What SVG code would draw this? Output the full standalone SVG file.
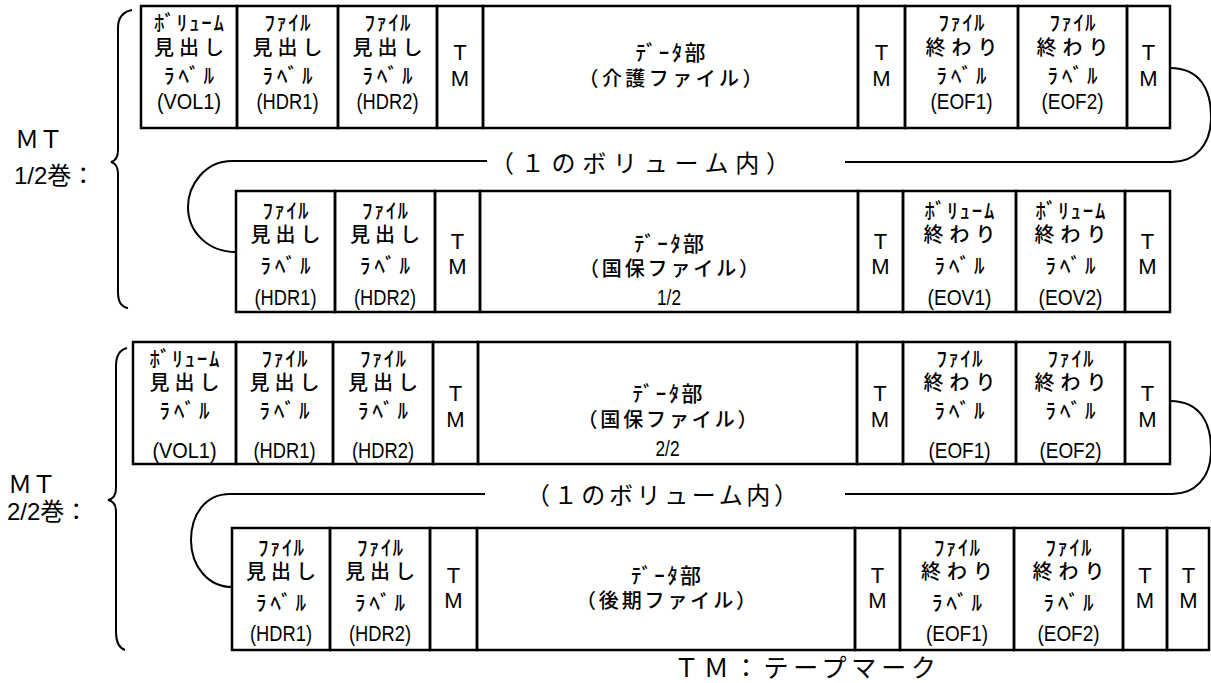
<svg xmlns="http://www.w3.org/2000/svg" width="1211" height="683" viewBox="0 0 1211 683">
<style>
.b{fill:none;stroke:#000;stroke-width:2.5}
.n{fill:none;stroke:#000;stroke-width:2}
text{fill:#000;text-anchor:middle;dominant-baseline:central}
.k{font-family:"Liberation Sans","Noto Sans CJK JP",sans-serif;font-size:21px;font-weight:500}
.z{font-family:"Liberation Sans","Noto Sans CJK JP",sans-serif;font-size:20px;font-weight:500}
.c{font-family:"Liberation Sans","Noto Sans CJK JP",sans-serif;font-size:22px}
.t{font-family:"Liberation Sans",sans-serif;font-size:22px}
.w{font-family:"Noto Sans CJK JP",sans-serif;font-size:24px}
.m{font-family:"Liberation Sans","Noto Sans CJK JP",sans-serif;font-size:24px;text-anchor:start;dominant-baseline:auto}
</style>
<rect width="1211" height="683" fill="#fff"/>

<!-- Row 1 -->
<g id="r1-vol1"><rect class="b" x="141" y="6" width="96" height="122"/>
<text class="k" x="189" y="22" textLength="70">ﾎﾞﾘｭｰﾑ</text><text class="z" x="189" y="48" textLength="70">見出し</text><text class="k" x="189" y="75" textLength="50">ﾗﾍﾞﾙ</text><text class="c" x="189" y="101" textLength="64" lengthAdjust="spacingAndGlyphs">(VOL1)</text></g>
<g id="r1-hdr1"><rect class="b" x="237" y="6" width="101" height="122"/>
<text class="k" x="287.5" y="22" textLength="46">ﾌｧｲﾙ</text><text class="z" x="287.5" y="48" textLength="70">見出し</text><text class="k" x="287.5" y="75" textLength="50">ﾗﾍﾞﾙ</text><text class="c" x="287.5" y="101" textLength="62" lengthAdjust="spacingAndGlyphs">(HDR1)</text></g>
<g id="r1-hdr2"><rect class="b" x="338" y="6" width="99" height="122"/>
<text class="k" x="387.5" y="22" textLength="46">ﾌｧｲﾙ</text><text class="z" x="387.5" y="48" textLength="70">見出し</text><text class="k" x="387.5" y="75" textLength="50">ﾗﾍﾞﾙ</text><text class="c" x="387.5" y="101" textLength="62" lengthAdjust="spacingAndGlyphs">(HDR2)</text></g>
<g id="r1-tm1"><rect class="b" x="437" y="6" width="46" height="122"/>
<text class="t" x="460" y="52">T</text><text class="t" x="460" y="78">M</text></g>
<g id="r1-data"><rect class="b" x="483" y="6" width="375" height="122"/>
<text class="k" x="670.5" y="52" textLength="70">ﾃﾞｰﾀ部</text><text class="z" x="670.5" y="79" textLength="184">（介護ファイル）</text></g>
<g id="r1-tm2"><rect class="b" x="858" y="6" width="47" height="122"/>
<text class="t" x="881.5" y="52">T</text><text class="t" x="881.5" y="78">M</text></g>
<g id="r1-eof1"><rect class="b" x="905" y="6" width="113" height="122"/>
<text class="k" x="961.5" y="22" textLength="46">ﾌｧｲﾙ</text><text class="z" x="961.5" y="48" textLength="72">終わり</text><text class="k" x="961.5" y="75" textLength="50">ﾗﾍﾞﾙ</text><text class="c" x="961.5" y="101" textLength="62" lengthAdjust="spacingAndGlyphs">(EOF1)</text></g>
<g id="r1-eof2"><rect class="b" x="1018" y="6" width="109" height="122"/>
<text class="k" x="1072.5" y="22" textLength="46">ﾌｧｲﾙ</text><text class="z" x="1072.5" y="48" textLength="72">終わり</text><text class="k" x="1072.5" y="75" textLength="50">ﾗﾍﾞﾙ</text><text class="c" x="1072.5" y="101" textLength="62" lengthAdjust="spacingAndGlyphs">(EOF2)</text></g>
<g id="r1-tm3"><rect class="b" x="1127" y="6" width="43" height="122"/>
<text class="t" x="1148.5" y="52">T</text><text class="t" x="1148.5" y="78">M</text></g>

<!-- Row 2 -->
<g id="r2-hdr1"><rect class="b" x="236" y="191" width="99" height="121"/>
<text class="k" x="285.5" y="210" textLength="46">ﾌｧｲﾙ</text><text class="z" x="285.5" y="235" textLength="70">見出し</text><text class="k" x="285.5" y="265" textLength="50">ﾗﾍﾞﾙ</text><text class="c" x="285.5" y="297" textLength="62" lengthAdjust="spacingAndGlyphs">(HDR1)</text></g>
<g id="r2-hdr2"><rect class="b" x="335" y="191" width="100" height="121"/>
<text class="k" x="385" y="210" textLength="46">ﾌｧｲﾙ</text><text class="z" x="385" y="235" textLength="70">見出し</text><text class="k" x="385" y="265" textLength="50">ﾗﾍﾞﾙ</text><text class="c" x="385" y="297" textLength="62" lengthAdjust="spacingAndGlyphs">(HDR2)</text></g>
<g id="r2-tm1"><rect class="b" x="435" y="191" width="45" height="121"/>
<text class="t" x="457.5" y="241">T</text><text class="t" x="457.5" y="266">M</text></g>
<g id="r2-data"><rect class="b" x="480" y="191" width="378" height="121"/>
<text class="k" x="669" y="243" textLength="70">ﾃﾞｰﾀ部</text><text class="z" x="669" y="269" textLength="180">（国保ファイル）</text><text class="c" x="669" y="297" textLength="24" lengthAdjust="spacingAndGlyphs">1/2</text></g>
<g id="r2-tm2"><rect class="b" x="858" y="191" width="45" height="121"/>
<text class="t" x="880.5" y="241">T</text><text class="t" x="880.5" y="266">M</text></g>
<g id="r2-eov1"><rect class="b" x="903" y="191" width="113" height="121"/>
<text class="k" x="959.5" y="210" textLength="70">ﾎﾞﾘｭｰﾑ</text><text class="z" x="959.5" y="235" textLength="72">終わり</text><text class="k" x="959.5" y="265" textLength="50">ﾗﾍﾞﾙ</text><text class="c" x="959.5" y="297" textLength="64" lengthAdjust="spacingAndGlyphs">(EOV1)</text></g>
<g id="r2-eov2"><rect class="b" x="1016" y="191" width="109" height="121"/>
<text class="k" x="1070.5" y="210" textLength="70">ﾎﾞﾘｭｰﾑ</text><text class="z" x="1070.5" y="235" textLength="72">終わり</text><text class="k" x="1070.5" y="265" textLength="50">ﾗﾍﾞﾙ</text><text class="c" x="1070.5" y="297" textLength="64" lengthAdjust="spacingAndGlyphs">(EOV2)</text></g>
<g id="r2-tm3"><rect class="b" x="1125" y="191" width="45" height="121"/>
<text class="t" x="1147.5" y="241">T</text><text class="t" x="1147.5" y="266">M</text></g>

<!-- Row 3 -->
<g id="r3-vol1"><rect class="b" x="133" y="342" width="103" height="122"/>
<text class="k" x="184.5" y="358" textLength="70">ﾎﾞﾘｭｰﾑ</text><text class="z" x="184.5" y="383" textLength="70">見出し</text><text class="k" x="184.5" y="410" textLength="50">ﾗﾍﾞﾙ</text><text class="c" x="184.5" y="450" textLength="64" lengthAdjust="spacingAndGlyphs">(VOL1)</text></g>
<g id="r3-hdr1"><rect class="b" x="236" y="342" width="97" height="122"/>
<text class="k" x="284.5" y="358" textLength="46">ﾌｧｲﾙ</text><text class="z" x="284.5" y="383" textLength="70">見出し</text><text class="k" x="284.5" y="410" textLength="50">ﾗﾍﾞﾙ</text><text class="c" x="284.5" y="450" textLength="62" lengthAdjust="spacingAndGlyphs">(HDR1)</text></g>
<g id="r3-hdr2"><rect class="b" x="333" y="342" width="100" height="122"/>
<text class="k" x="383" y="358" textLength="46">ﾌｧｲﾙ</text><text class="z" x="383" y="383" textLength="70">見出し</text><text class="k" x="383" y="410" textLength="50">ﾗﾍﾞﾙ</text><text class="c" x="383" y="450" textLength="62" lengthAdjust="spacingAndGlyphs">(HDR2)</text></g>
<g id="r3-tm1"><rect class="b" x="433" y="342" width="45" height="122"/>
<text class="t" x="455.5" y="393">T</text><text class="t" x="455.5" y="419">M</text></g>
<g id="r3-data"><rect class="b" x="478" y="342" width="379" height="122"/>
<text class="k" x="667.5" y="393" textLength="70">ﾃﾞｰﾀ部</text><text class="z" x="667.5" y="420" textLength="180">（国保ファイル）</text><text class="c" x="667.5" y="448" textLength="24" lengthAdjust="spacingAndGlyphs">2/2</text></g>
<g id="r3-tm2"><rect class="b" x="857" y="342" width="46" height="122"/>
<text class="t" x="880" y="393">T</text><text class="t" x="880" y="419">M</text></g>
<g id="r3-eof1"><rect class="b" x="903" y="342" width="113" height="122"/>
<text class="k" x="959.5" y="358" textLength="46">ﾌｧｲﾙ</text><text class="z" x="959.5" y="383" textLength="72">終わり</text><text class="k" x="959.5" y="410" textLength="50">ﾗﾍﾞﾙ</text><text class="c" x="959.5" y="450" textLength="62" lengthAdjust="spacingAndGlyphs">(EOF1)</text></g>
<g id="r3-eof2"><rect class="b" x="1016" y="342" width="109" height="122"/>
<text class="k" x="1070.5" y="358" textLength="46">ﾌｧｲﾙ</text><text class="z" x="1070.5" y="383" textLength="72">終わり</text><text class="k" x="1070.5" y="410" textLength="50">ﾗﾍﾞﾙ</text><text class="c" x="1070.5" y="450" textLength="62" lengthAdjust="spacingAndGlyphs">(EOF2)</text></g>
<g id="r3-tm3"><rect class="b" x="1125" y="342" width="45" height="122"/>
<text class="t" x="1147.5" y="393">T</text><text class="t" x="1147.5" y="419">M</text></g>

<!-- Row 4 -->
<g id="r4-hdr1"><rect class="b" x="232" y="528" width="98" height="122"/>
<text class="k" x="281" y="547" textLength="46">ﾌｧｲﾙ</text><text class="z" x="281" y="572" textLength="70">見出し</text><text class="k" x="281" y="602" textLength="50">ﾗﾍﾞﾙ</text><text class="c" x="281" y="633" textLength="62" lengthAdjust="spacingAndGlyphs">(HDR1)</text></g>
<g id="r4-hdr2"><rect class="b" x="330" y="528" width="100" height="122"/>
<text class="k" x="380" y="547" textLength="46">ﾌｧｲﾙ</text><text class="z" x="380" y="572" textLength="70">見出し</text><text class="k" x="380" y="602" textLength="50">ﾗﾍﾞﾙ</text><text class="c" x="380" y="633" textLength="62" lengthAdjust="spacingAndGlyphs">(HDR2)</text></g>
<g id="r4-tm1"><rect class="b" x="430" y="528" width="47" height="122"/>
<text class="t" x="453.5" y="575">T</text><text class="t" x="453.5" y="600">M</text></g>
<g id="r4-data"><rect class="b" x="477" y="528" width="378" height="122"/>
<text class="k" x="666" y="575" textLength="70">ﾃﾞｰﾀ部</text><text class="z" x="666" y="601" textLength="180">（後期ファイル）</text></g>
<g id="r4-tm2"><rect class="b" x="855" y="528" width="45" height="122"/>
<text class="t" x="877.5" y="575">T</text><text class="t" x="877.5" y="600">M</text></g>
<g id="r4-eof1"><rect class="b" x="900" y="528" width="114" height="122"/>
<text class="k" x="957" y="547" textLength="46">ﾌｧｲﾙ</text><text class="z" x="957" y="572" textLength="72">終わり</text><text class="k" x="957" y="602" textLength="50">ﾗﾍﾞﾙ</text><text class="c" x="957" y="633" textLength="62" lengthAdjust="spacingAndGlyphs">(EOF1)</text></g>
<g id="r4-eof2"><rect class="b" x="1014" y="528" width="109" height="122"/>
<text class="k" x="1068.5" y="547" textLength="46">ﾌｧｲﾙ</text><text class="z" x="1068.5" y="572" textLength="72">終わり</text><text class="k" x="1068.5" y="602" textLength="50">ﾗﾍﾞﾙ</text><text class="c" x="1068.5" y="633" textLength="62" lengthAdjust="spacingAndGlyphs">(EOF2)</text></g>
<g id="r4-tm3"><rect class="b" x="1123" y="528" width="44" height="122"/>
<text class="t" x="1145" y="575">T</text><text class="t" x="1145" y="600">M</text></g>
<g id="r4-tm4"><rect class="b" x="1167" y="528" width="42" height="122"/>
<text class="t" x="1188.5" y="575">T</text><text class="t" x="1188.5" y="600">M</text></g>

<!-- Connectors -->
<g id="connectors">
<path class="n" d="M1170,68 C1200,68 1212,90 1211,120 C1210,145 1195,162 1172,162 L845,162"/>
<path class="n" d="M487,161 L232,161 C205,161 188,185 188,207 C188,232 208,252 236,252"/>
<path class="n" d="M1170,401 C1200,401 1212,423 1211,453 C1210,478 1195,494 1172,494 L845,494"/>
<path class="n" d="M485,494 L230,494 C205,494 191,515 191,540 C191,566 208,587 232,587"/>
</g>

<g id="label-vol1"><text class="w" x="640" y="161" textLength="300">（１のボリューム内）</text></g>
<g id="label-vol2"><text class="w" x="662" y="493" textLength="272">（１のボリューム内）</text></g>

<!-- Braces -->
<g id="brace1">
<path class="n" d="M132,10 C122,12 118,18 118,28 L118,150 C118,157 115,161 111,162 C115,163 118,167 118,174 L118,292 C118,302 121,307 128,308"/>
<text class="m" x="15" y="148">ＭＴ</text><text class="m" x="14" y="184">1/2巻：</text>
</g>
<g id="brace2">
<path class="n" d="M127,348 C119,350 116,356 116,366 L116,488 C116,495 113,499 108,500 C113,501 116,505 116,512 L116,632 C116,643 119,648 125,650"/>
<text class="m" x="8" y="493">ＭＴ</text><text class="m" x="7" y="520">2/2巻：</text>
</g>

<g id="legend"><text class="w" x="805" y="666" textLength="262" style="font-size:25px">ＴＭ：テープマーク</text></g>
</svg>
